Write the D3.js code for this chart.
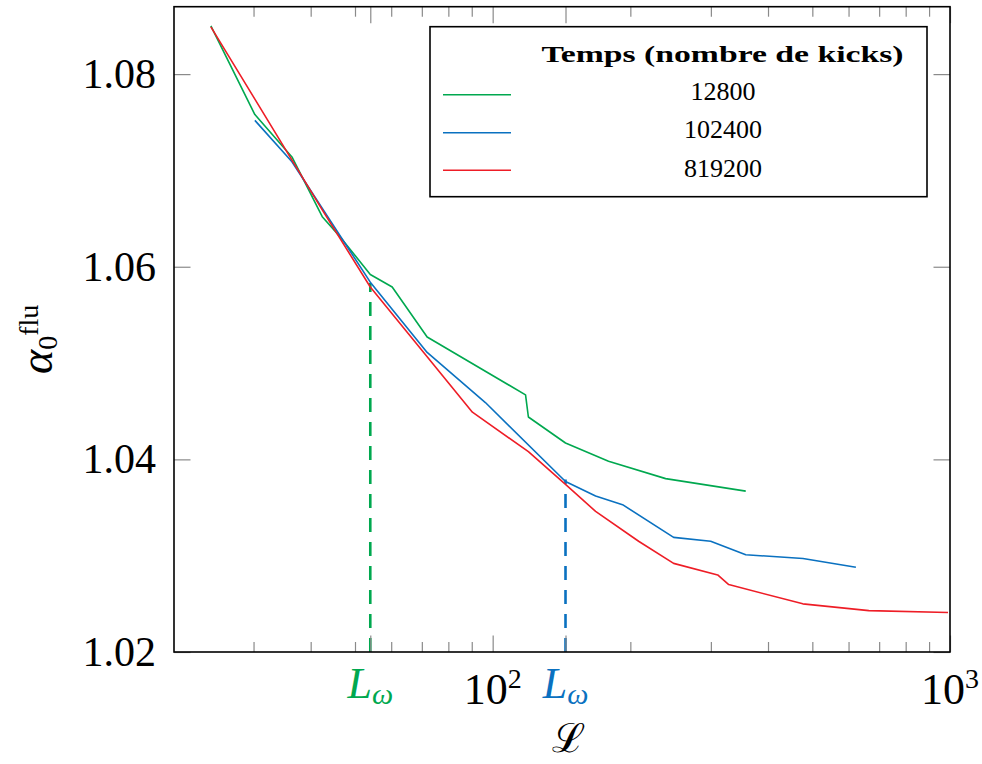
<!DOCTYPE html>
<html>
<head>
<meta charset="utf-8">
<script src="https://cdn.jsdelivr.net/npm/d3@7"></script>
<style>
  html, body { margin: 0; padding: 0; background: #fff; }
  svg { display: block; }
  text { font-family: "Liberation Serif", "DejaVu Serif", serif; }
</style>
</head>
<body>
<svg id="chart" width="982" height="764"></svg>
<script>
// ---- data ----
const seriesNames = ["12800", "102400", "819200"];
const seriesColors = ["#00a84f", "#0a71c0", "#ee1d26"];

const L_12800 = [24.2, 30.2, 36.4, 42.4, 46.4, 54.0, 60.3, 71.9, 118, 119.7, 144.3, 179.2, 238.9, 357.6];
const A_12800 = [1.0850, 1.0758, 1.0714, 1.0652, 1.0631, 1.0592, 1.0579, 1.0527, 1.0467, 1.0444, 1.0417, 1.0398, 1.0380, 1.0367];

const L_102400 = [30.2, 36.4, 54.0, 71.9, 96.4, 144.3, 167.9, 192.3, 248.7, 299.7, 357.6, 477, 622.6];
const A_102400 = [1.0752, 1.0709, 1.0584, 1.0511, 1.0459, 1.0377, 1.0362, 1.0353, 1.0319, 1.0315, 1.0301, 1.0297, 1.0288];

const L_819200 = [24.2, 30.2, 42.4, 54.0, 90.3, 119.7, 144.3, 167.9, 208.5, 248.7, 310.5, 328.2, 476.6, 664.6, 990];
const A_819200 = [1.0849, 1.0774, 1.0659, 1.0579, 1.0449, 1.0408, 1.0374, 1.0346, 1.0315, 1.0292, 1.0280, 1.0270, 1.0250, 1.0243, 1.0241];

// L_omega markers
const Lomega = [54.0, 144.3];
const LomegaTop = [1.0583, 1.0379];
const LomegaColors = ["#00a84f", "#0a71c0"];

// tick values
const yTicks = [1.02, 1.04, 1.06, 1.08];
const yTickLabels = ["1.02", "1.04", "1.06", "1.08"];
const xMinorTicks = [30, 40, 50, 60, 70, 80, 90, 200, 300, 400, 500, 600, 700, 800, 900];
const xMajorTicks = [100, 1000];
const xMajorBase = ["10", "10"];
const xMajorExp = ["2", "3"];

// ---- layout ----
const plot = {left: 174, right: 950, top: 6.7, bottom: 652};
const svg = d3.select("#chart");

const x = d3.scaleLog().domain([20.1, 1000]).range([plot.left, plot.right]);
const y = d3.scaleLinear().domain([1.02, 1.087]).range([plot.bottom, plot.top]);

const seriesL = [L_12800, L_102400, L_819200];
const seriesA = [A_12800, A_102400, A_819200];

const line = d3.line().x(d => x(d[0])).y(d => y(d[1]));

// dashed L_omega lines
Lomega.forEach((v, i) => {
  svg.append("line")
    .attr("x1", x(v)).attr("x2", x(v))
    .attr("y1", y(1.02)).attr("y2", y(LomegaTop[i]))
    .attr("stroke", LomegaColors[i]).attr("stroke-width", 2.6)
    .attr("stroke-dasharray", "14,10");
});

// series lines
seriesL.forEach((Ls, i) => {
  const pts = Ls.map((l, j) => [l, seriesA[i][j]]);
  svg.append("path").datum(pts)
    .attr("d", line)
    .attr("fill", "none")
    .attr("stroke", seriesColors[i])
    .attr("stroke-width", 1.6)
    .attr("stroke-linejoin", "round");
});

// ticks
const tickColor = "#8a8a8a";
const minorLen = 10, majorLen = 16.5;
function xTicksAt(g, values, len) {
  g.append("g").attr("transform", `translate(0,${plot.bottom})`)
    .call(d3.axisBottom(x).tickValues(values).tickSize(-len).tickFormat(""))
    .call(s => s.select(".domain").remove())
    .call(s => s.selectAll("line").attr("stroke", tickColor).attr("stroke-width", 1.2));
  g.append("g").attr("transform", `translate(0,${plot.top})`)
    .call(d3.axisTop(x).tickValues(values).tickSize(-len).tickFormat(""))
    .call(s => s.select(".domain").remove())
    .call(s => s.selectAll("line").attr("stroke", tickColor).attr("stroke-width", 1.2));
}
const tg = svg.append("g");
xTicksAt(tg, xMinorTicks, minorLen);
xTicksAt(tg, xMajorTicks.concat(Lomega), majorLen);

tg.append("g").attr("transform", `translate(${plot.left},0)`)
  .call(d3.axisLeft(y).tickValues(yTicks).tickSize(-majorLen).tickFormat(""))
  .call(s => s.select(".domain").remove())
  .call(s => s.selectAll("line").attr("stroke", tickColor).attr("stroke-width", 1.2));
tg.append("g").attr("transform", `translate(${plot.right},0)`)
  .call(d3.axisRight(y).tickValues(yTicks).tickSize(-majorLen).tickFormat(""))
  .call(s => s.select(".domain").remove())
  .call(s => s.selectAll("line").attr("stroke", tickColor).attr("stroke-width", 1.2));

// frame
svg.append("rect")
  .attr("x", plot.left).attr("y", plot.top)
  .attr("width", plot.right - plot.left).attr("height", plot.bottom - plot.top)
  .attr("fill", "none").attr("stroke", "#000").attr("stroke-width", 1.6);

// y tick labels
yTicks.forEach((v, i) => {
  svg.append("text")
    .attr("x", 156).attr("y", y(v) + 14)
    .attr("text-anchor", "end")
    .attr("font-size", 42)
    .attr("fill", "#000")
    .text(yTickLabels[i]);
});

// x major tick labels (10^n)
xMajorTicks.forEach((v, i) => {
  const t = svg.append("text")
    .attr("x", x(v)).attr("y", 704)
    .attr("text-anchor", "middle")
    .attr("font-size", 44)
    .attr("fill", "#000");
  t.append("tspan").text(xMajorBase[i]);
  t.append("tspan").attr("font-size", 28).attr("dy", -16).text(xMajorExp[i]);
});

// L_omega labels
Lomega.forEach((v, i) => {
  const t = svg.append("text")
    .attr("x", x(v)).attr("y", 698)
    .attr("text-anchor", "middle")
    .attr("fill", LomegaColors[i])
    .attr("font-style", "italic");
  t.append("tspan").attr("font-size", 44).text("L");
  t.append("tspan").attr("font-size", 30).attr("dy", 6).text("ω");
});

// x axis label
svg.append("text")
  .attr("x", 568).attr("y", 752)
  .attr("text-anchor", "middle")
  .attr("font-size", 40)
  .attr("font-family", "DejaVu Serif, serif")
  .attr("fill", "#000")
  .text("ℒ");

// y axis label
const yl = svg.append("text")
  .attr("transform", "translate(52,374) rotate(-90)")
  .attr("fill", "#000");
yl.append("tspan").attr("font-size", 46).attr("font-style", "italic").text("α");
yl.append("tspan").attr("font-size", 28).attr("dy", 5).text("0");
yl.append("tspan").attr("font-size", 28).attr("dy", -19).text("flu");

// legend
const leg = {x: 430, y: 26.7, w: 497, h: 170};
svg.append("rect")
  .attr("x", leg.x).attr("y", leg.y).attr("width", leg.w).attr("height", leg.h)
  .attr("fill", "#fff").attr("stroke", "#000").attr("stroke-width", 1.6);
svg.append("text")
  .attr("x", 722.5).attr("y", 61.7)
  .attr("text-anchor", "middle")
  .attr("font-size", 24).attr("font-weight", "bold")
  .attr("textLength", 362).attr("lengthAdjust", "spacingAndGlyphs")
  .attr("fill", "#000")
  .text("Temps (nombre de kicks)");
const legLineY = [94.7, 132.7, 170.3];
const legTextY = [100, 138.3, 176.5];
seriesNames.forEach((n, i) => {
  svg.append("line")
    .attr("x1", 443).attr("x2", 511)
    .attr("y1", legLineY[i]).attr("y2", legLineY[i])
    .attr("stroke", seriesColors[i]).attr("stroke-width", 1.6);
  svg.append("text")
    .attr("x", 723).attr("y", legTextY[i])
    .attr("text-anchor", "middle")
    .attr("font-size", 26)
    .attr("fill", "#000")
    .text(n);
});
</script>
</body>
</html>
